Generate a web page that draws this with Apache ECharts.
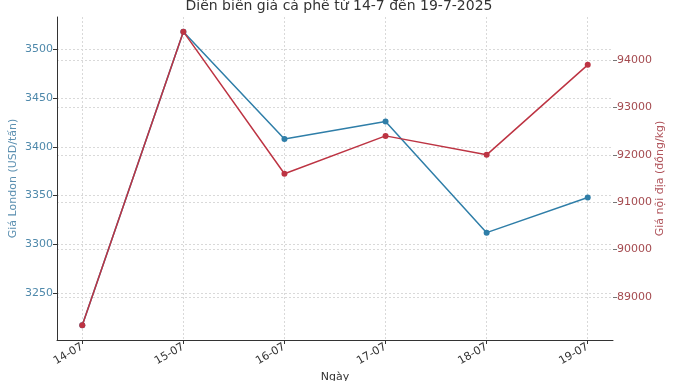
<!DOCTYPE html>
<html>
<head>
<meta charset="utf-8">
<script src="https://cdn.jsdelivr.net/npm/echarts@6/dist/echarts.min.js"></script>
<style>html,body{margin:0;padding:0;background:#fff}#c{width:678px;height:381px}</style>
</head>
<body>
<div id="c"></div>
<script>
const categories = ['14-07', '15-07', '16-07', '17-07', '18-07', '19-07'];
const londonPrice = [3217, 3518, 3408, 3426, 3312, 3348];
const domesticPrice = [88400, 94600, 91600, 92400, 92000, 93900];
const leftTicks = [3250, 3300, 3350, 3400, 3450, 3500];
const rightTicks = [89000, 90000, 91000, 92000, 93000, 94000];

const FONT = 'DejaVu Sans';
const BLUE = '#2f7ea8';
const RED = '#bd3443';
const idx = categories.map((_, i) => i);

function span(arr) {
  const lo = Math.min(...arr), hi = Math.max(...arr), m = (hi - lo) * 0.05;
  return [lo - m, hi + m];
}
const ls = span(londonPrice), rs = span(domesticPrice);
const gridLine = {show: true, lineStyle: {color: '#d9d9d9', type: [2, 2], width: 1}};

const chart = echarts.init(document.getElementById('c'));
chart.setOption({
  backgroundColor: '#fff',
  animation: false,
  title: {
    text: 'Diễn biến giá cà phê từ 14-7 đến 19-7-2025',
    left: 'center', top: -6,
    textStyle: {fontFamily: FONT, fontSize: 14, fontWeight: 'normal', color: '#333'}
  },
  grid: {left: 57, right: 65, top: 17, bottom: 41, containLabel: false, outerBoundsMode: 'none'},
  xAxis: {
    type: 'value', min: -0.25, max: 5.25,
    name: 'Ngày', nameLocation: 'middle', nameGap: 32, nameMoveOverlap: false,
    nameTextStyle: {fontFamily: FONT, fontSize: 11, color: '#333'},
    axisLine: {show: true, onZero: false, lineStyle: {color: '#333', width: 1}},
    axisTick: {show: true, customValues: idx, length: 4, lineStyle: {color: '#333'}},
    axisLabel: {customValues: idx, rotate: 30, margin: 6, fontFamily: FONT, fontSize: 11, color: '#333',
      formatter: v => categories[Math.round(v)]},
    splitLine: gridLine
  },
  yAxis: [{
    type: 'value', position: 'left', min: ls[0], max: ls[1],
    name: 'Giá London (USD/tấn)', nameLocation: 'middle', nameGap: 38, nameMoveOverlap: false,
    nameTextStyle: {fontFamily: FONT, fontSize: 11, color: '#5b8fb0'},
    axisLine: {show: true, onZero: false, lineStyle: {color: '#333', width: 1}},
    axisTick: {show: true, customValues: leftTicks, length: 4, lineStyle: {color: '#333'}},
    axisLabel: {customValues: leftTicks, margin: 4, fontFamily: FONT, fontSize: 11, color: '#4f89ab',
      formatter: v => String(v)},
    splitLine: gridLine
  }, {
    type: 'value', position: 'right', min: rs[0], max: rs[1],
    name: 'Giá nội địa (đồng/kg)', nameLocation: 'middle', nameGap: 42, nameRotate: 90, nameMoveOverlap: false,
    nameTextStyle: {fontFamily: FONT, fontSize: 11, color: '#b0545b'},
    axisLine: {show: false, onZero: false},
    axisTick: {show: true, customValues: rightTicks, length: 4, lineStyle: {color: '#777'}},
    axisLabel: {customValues: rightTicks, margin: 4, fontFamily: FONT, fontSize: 11, color: '#a44a4f',
      formatter: v => String(v)},
    splitLine: gridLine
  }],
  series: [{
    name: 'London', type: 'line', yAxisIndex: 0,
    data: londonPrice.map((v, i) => [i, v]),
    symbol: 'circle', symbolSize: 6,
    lineStyle: {color: BLUE, width: 1.5}, itemStyle: {color: BLUE}, z: 2
  }, {
    name: 'Nội địa', type: 'line', yAxisIndex: 1,
    data: domesticPrice.map((v, i) => [i, v]),
    symbol: 'circle', symbolSize: 6,
    lineStyle: {color: RED, width: 1.5}, itemStyle: {color: RED}, z: 3
  }]
});
</script>
</body>
</html>
